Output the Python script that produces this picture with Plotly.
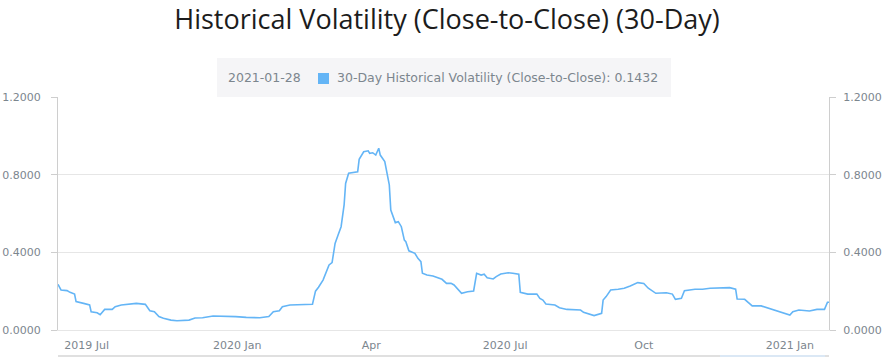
import plotly.graph_objects as go

# ---- data ----
dates = [
    "2019-09-04", "2019-09-06", "2019-09-10", "2019-09-12", "2019-09-15", "2019-09-16",
    "2019-09-21", "2019-09-25", "2019-09-26", "2019-09-30", "2019-10-02", "2019-10-05",
    "2019-10-10", "2019-10-12", "2019-10-16", "2019-10-22", "2019-10-26", "2019-11-01",
    "2019-11-02", "2019-11-04", "2019-11-07", "2019-11-10", "2019-11-13", "2019-11-18",
    "2019-11-22", "2019-11-30", "2019-12-04", "2019-12-09", "2019-12-16", "2019-12-22",
    "2019-12-31", "2020-01-07", "2020-01-16", "2020-01-22", "2020-01-25", "2020-01-29",
    "2020-01-31", "2020-02-05", "2020-02-11", "2020-02-18", "2020-02-20", "2020-02-22",
    "2020-02-24", "2020-02-27", "2020-02-29", "2020-03-02", "2020-03-04", "2020-03-05",
    "2020-03-06", "2020-03-08", "2020-03-10", "2020-03-12", "2020-03-13", "2020-03-15",
    "2020-03-19", "2020-03-21", "2020-03-22", "2020-03-24", "2020-03-25", "2020-03-28",
    "2020-03-29", "2020-03-31", "2020-04-02", "2020-04-04", "2020-04-05", "2020-04-08",
    "2020-04-10", "2020-04-11", "2020-04-12", "2020-04-14", "2020-04-15", "2020-04-17",
    "2020-04-19", "2020-04-21", "2020-04-22", "2020-04-24", "2020-04-28", "2020-04-30",
    "2020-05-02", "2020-05-03", "2020-05-06", "2020-05-10", "2020-05-12", "2020-05-16",
    "2020-05-19", "2020-05-22", "2020-05-24", "2020-05-26", "2020-05-29", "2020-06-02",
    "2020-06-06", "2020-06-08", "2020-06-11", "2020-06-13", "2020-06-15", "2020-06-19",
    "2020-06-21", "2020-06-24", "2020-06-29", "2020-07-02", "2020-07-06", "2020-07-07",
    "2020-07-12", "2020-07-18", "2020-07-20", "2020-07-22", "2020-07-24", "2020-07-30",
    "2020-08-02", "2020-08-07", "2020-08-16", "2020-08-18", "2020-08-25", "2020-08-30",
    "2020-08-31", "2020-09-02", "2020-09-05", "2020-09-10", "2020-09-14", "2020-09-18",
    "2020-09-23", "2020-09-27", "2020-09-30", "2020-10-05", "2020-10-12", "2020-10-16",
    "2020-10-18", "2020-10-22", "2020-10-24", "2020-10-31", "2020-11-05", "2020-11-10",
    "2020-11-16", "2020-11-23", "2020-11-27", "2020-11-28", "2020-12-03", "2020-12-08",
    "2020-12-14", "2020-12-19", "2020-12-26", "2021-01-02", "2021-01-04", "2021-01-08",
    "2021-01-15", "2021-01-20", "2021-01-25", "2021-01-27", "2021-01-28",
]
volatility = [
    0.235, 0.206, 0.203, 0.194, 0.185, 0.146,
    0.137, 0.129, 0.094, 0.089, 0.079, 0.106,
    0.106, 0.120, 0.129, 0.135, 0.137, 0.132,
    0.120, 0.099, 0.094, 0.069, 0.060, 0.051,
    0.048, 0.051, 0.062, 0.063, 0.072, 0.072,
    0.069, 0.065, 0.063, 0.069, 0.094, 0.099,
    0.120, 0.129, 0.130, 0.132, 0.133, 0.200,
    0.220, 0.257, 0.300, 0.335, 0.347, 0.395,
    0.446, 0.489, 0.532, 0.644, 0.755, 0.807,
    0.812, 0.815, 0.879, 0.910, 0.918, 0.923,
    0.910, 0.913, 0.901, 0.936, 0.901, 0.867,
    0.789, 0.747, 0.618, 0.575, 0.553, 0.558,
    0.532, 0.463, 0.455, 0.408, 0.395, 0.369,
    0.352, 0.292, 0.283, 0.278, 0.271, 0.261,
    0.240, 0.240, 0.232, 0.215, 0.189, 0.197,
    0.201, 0.292, 0.283, 0.287, 0.269, 0.263,
    0.275, 0.288, 0.295, 0.292, 0.287, 0.194,
    0.185, 0.185, 0.163, 0.154, 0.134, 0.129,
    0.115, 0.106, 0.103, 0.091, 0.074, 0.086,
    0.154, 0.172, 0.206, 0.210, 0.215, 0.227,
    0.244, 0.240, 0.215, 0.189, 0.192, 0.185,
    0.158, 0.163, 0.202, 0.210, 0.210, 0.215,
    0.218, 0.218, 0.210, 0.160, 0.158, 0.124,
    0.124, 0.112, 0.094, 0.077, 0.094, 0.103,
    0.098, 0.106, 0.106, 0.143, 0.1432,
]
x_tick_vals = ["2019-09-23", "2020-01-01", "2020-03-30", "2020-06-27", "2020-09-27", "2021-01-02"]
x_tick_text = ["2019 Jul", "2020 Jan", "Apr", "2020 Jul", "Oct", "2021 Jan"]
y_tick_vals = [0, 0.4, 0.8, 1.2]

title_text = "Historical Volatility (Close-to-Close) (30-Day)"
series_name = "30-Day Historical Volatility (Close-to-Close)"
legend_date = "2021-01-28"
legend_value = 0.1432

LINE = "#64b5f6"
GRAY_TXT = "#7c868e"
AXIS = "#cecece"
GRID = "#e6e6e6"
FONT = "DejaVu Sans"

fig = go.Figure()
fig.add_trace(go.Scatter(
    x=dates, y=volatility, mode="lines", name=series_name,
    line=dict(color=LINE, width=1.6), showlegend=False,
))
# empty trace so the right-hand value axis is drawn
fig.add_trace(go.Scatter(x=[], y=[], yaxis="y2", showlegend=False, hoverinfo="skip"))

W, H = 889, 358
L, R, T, B = 58, 60, 97, 28
pw, ph = W - L - R, H - T - B


def px(xp):
    return (xp - L) / pw


def py(yp):
    return (H - B - yp) / ph


yaxis_common = dict(
    range=[0, 1.2], tickvals=y_tick_vals, tickformat=".4f",
    ticks="outside", ticklen=6, tickcolor=AXIS, showline=True, linecolor=AXIS,
    tickfont=dict(family=FONT, size=11, color=GRAY_TXT), zeroline=False,
    fixedrange=True, automargin=False,
)

fig.update_layout(
    width=W, height=H,
    margin=dict(l=L, r=R, t=T, b=B, autoexpand=False),
    paper_bgcolor="white", plot_bgcolor="white",
    title=dict(text=title_text, x=447 / W, xanchor="center", y=1 - 20 / H, yanchor="middle",
               yref="container", automargin=False,
               font=dict(family="Open Sans", size=27, color="#1c1c1c")),
    xaxis=dict(
        type="date", range=[dates[0], dates[-1]],
        tickvals=x_tick_vals, ticktext=x_tick_text, ticks="",
        showgrid=False, showline=True, linecolor=GRID, zeroline=False, automargin=False,
        tickfont=dict(family=FONT, size=11, color=GRAY_TXT), ticklabelstandoff=5,
    ),
    yaxis=dict(side="left", showgrid=True, gridcolor=GRID, ticklabelstandoff=8, **yaxis_common),
    yaxis2=dict(side="right", overlaying="y", showgrid=False, ticklabelstandoff=5, **yaxis_common),
    showlegend=False,
)

shapes = [
    # legend background
    dict(type="rect", xref="paper", yref="paper", x0=px(217), x1=px(671), y0=py(97), y1=py(58),
         fillcolor="#f5f5f7", line=dict(width=0), layer="below"),
    # legend marker square
    dict(type="rect", xref="paper", yref="paper", x0=px(318), x1=px(329), y0=py(84), y1=py(73),
         fillcolor=LINE, line=dict(width=0)),
    # scroller top border
    dict(type="line", xref="paper", yref="paper", x0=0, x1=1, y0=py(356), y1=py(356),
         line=dict(color="#e0e0e0", width=2)),
    dict(type="line", xref="paper", yref="paper", x0=px(720), x1=px(825), y0=py(356), y1=py(356),
         line=dict(color="#dbe8f5", width=2)),
]
fig.update_layout(shapes=shapes)

fig.add_annotation(xref="paper", yref="paper", x=px(226), y=py(78), xanchor="left", yanchor="middle",
                   text=legend_date, showarrow=False,
                   font=dict(family=FONT, size=12.5, color=GRAY_TXT))
fig.add_annotation(xref="paper", yref="paper", x=px(335), y=py(78), xanchor="left", yanchor="middle",
                   text=f"{series_name}: {legend_value:.4f}", showarrow=False,
                   font=dict(family=FONT, size=12.5, color=GRAY_TXT))

fig.write_html("out.html", config={"displayModeBar": False},
               post_script="document.body.style.margin='0px';")
